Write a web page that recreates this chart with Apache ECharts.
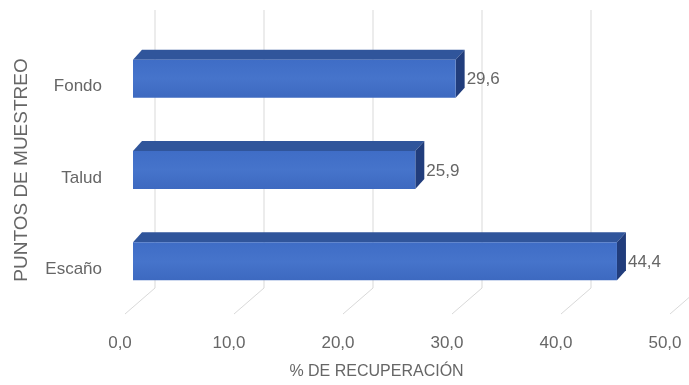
<!DOCTYPE html>
<html>
<head>
<meta charset="utf-8">
<script src="https://cdn.jsdelivr.net/npm/echarts@6/dist/echarts.min.js"></script>
<style>
html,body{margin:0;padding:0;background:#fff;}
#c{width:689px;height:385px;}
</style>
</head>
<body>
<div id="c"></div>
<script>
const categories = ['Fondo', 'Talud', 'Escaño'];
const values = [29.6, 25.9, 44.4];
const xTicks = [0, 10, 20, 30, 40, 50];
const xTitle = '% DE RECUPERACIÓN';
const yTitle = 'PUNTOS DE MUESTREO';

const FONT = '"Liberation Sans", Arial, sans-serif';
const TXT = '#666666';
const SHIFT = 13;      // bar front plane relative to axis label plane
const DX = 9, DY = 10; // bar depth
const BAR_H = 38;

const fmt = v => v.toFixed(1).replace('.', ',');

const chart = echarts.init(document.getElementById('c'), null, {renderer: 'canvas'});
chart.setOption({
  backgroundColor: '#ffffff',
  animation: false,
  grid: {left: 120, right: 24, top: 33, bottom: 76},
  xAxis: {
    type: 'value', min: 0, max: 50, interval: 10,
    axisLine: {show: false}, axisTick: {show: false}, splitLine: {show: false},
    axisLabel: {color: TXT, fontFamily: FONT, fontSize: 17, margin: 28, formatter: v => fmt(v)},
    name: xTitle, nameLocation: 'middle', nameGap: 57,
    nameTextStyle: {color: TXT, fontFamily: FONT, fontSize: 16, padding: [0, 32, 0, 0]}
  },
  yAxis: {
    type: 'category', data: categories, inverse: true,
    axisLine: {show: false}, axisTick: {show: false}, splitLine: {show: false},
    axisLabel: {
      margin: 18,
      formatter: v => '{a|' + v + '}',
      rich: {a: {color: TXT, fontFamily: FONT, fontSize: 17, padding: [16, 0, 0, 0]}}
    },
    name: yTitle, nameLocation: 'middle', nameGap: 89,
    nameTextStyle: {color: TXT, fontFamily: FONT, fontSize: 19}
  },
  series: [
    {
      type: 'custom', z: 1, silent: true,
      data: xTicks.map(t => [t, 0]),
      renderItem: function (params, api) {
        const cs = params.coordSys;
        const x = api.coord([api.value(0), 0])[0];
        const top = cs.y - 23, floorBack = cs.y + cs.height - 19, floorFront = cs.y + cs.height + 7;
        const xb = x + SHIFT + 22, xf = x + 5;
        return {
          type: 'polyline',
          shape: {points: [[xb, top], [xb, floorBack], [xf, floorFront]]},
          style: {stroke: '#d9d9d9', lineWidth: 1, fill: null}
        };
      }
    },
    {
      type: 'custom', z: 2,
      data: values.map((v, i) => [v, i]),
      renderItem: function (params, api) {
        const v = api.value(0), i = api.value(1);
        const p0 = api.coord([0, i]), p1 = api.coord([v, i]);
        const x0 = p0[0] + SHIFT, x1 = p1[0] + SHIFT;
        const ty = p0[1] - BAR_H / 2, by = p0[1] + BAR_H / 2;
        return {
          type: 'group',
          children: [
            {type: 'polygon', shape: {points: [[x0, ty], [x0 + DX, ty - DY], [x1 + DX, ty - DY], [x1, ty]]},
              style: {fill: '#30559b'}},
            {type: 'polygon', shape: {points: [[x1, ty], [x1 + DX, ty - DY], [x1 + DX, by - DY], [x1, by]]},
              style: {fill: '#213d7c'}},
            {type: 'rect', shape: {x: x0, y: ty, width: x1 - x0, height: by - ty},
              style: {fill: new echarts.graphic.LinearGradient(0, 0, 0, 1, [
                {offset: 0, color: '#3f6dc6'}, {offset: 0.5, color: '#4674cb'}, {offset: 1, color: '#3d69c0'}])}},
            {type: 'text', x: x1 + 11, y: p0[1] + 1,
              style: {text: fmt(v), fill: TXT, font: '17px ' + FONT, verticalAlign: 'middle', align: 'left'}}
          ]
        };
      }
    }
  ]
});
</script>
</body>
</html>
